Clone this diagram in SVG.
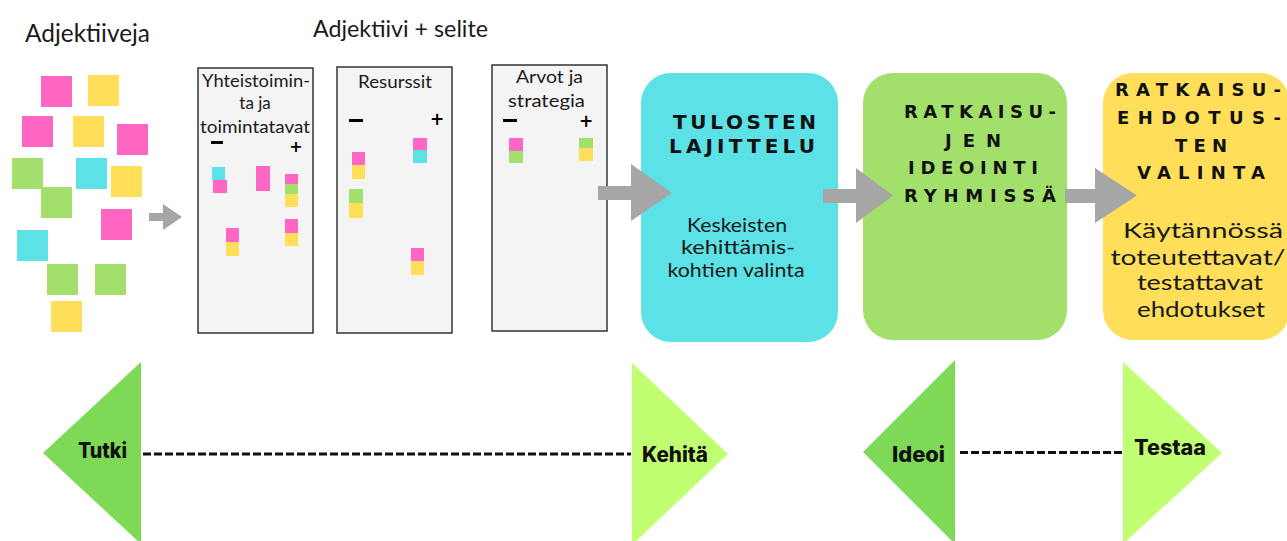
<svg xmlns="http://www.w3.org/2000/svg" width="1287" height="541" viewBox="0 0 1287 541">
<style>
.pk{fill:#ff66c4}.yl{fill:#ffde59}.gr{fill:#a2e06b}.cy{fill:#5ce1e6}
.board{fill:#f4f4f4;stroke:#333;stroke-width:1.5}
.t{font-family:Lato,"Noto Sans",sans-serif;fill:#1a1a1a}
.h{font-family:"DejaVu Sans",Inter,sans-serif;font-weight:700;fill:#111}
.pm{font-family:"DejaVu Sans",sans-serif;font-weight:700;fill:#000}
.lb{font-family:Inter,"DejaVu Sans",sans-serif;font-weight:800;fill:#111;font-size:21px}
.arr{fill:#a6a6a6}
.dash{stroke:#111;stroke-width:3.2;stroke-dasharray:8 3;fill:none}
</style>
<rect width="1287" height="541" fill="#fff"/>

<g id="titles">
<text class="t" x="25" y="42" font-size="25" textLength="125" lengthAdjust="spacingAndGlyphs">Adjektiiveja</text>
<text class="t" x="313" y="37" font-size="23" textLength="175" lengthAdjust="spacingAndGlyphs">Adjektiivi + selite</text>
</g>

<g id="stickies">
<rect class="pk" x="41" y="76" width="31" height="31"/>
<rect class="yl" x="88" y="75" width="31" height="31"/>
<rect class="pk" x="22" y="116" width="31" height="31"/>
<rect class="yl" x="73" y="116" width="31" height="31"/>
<rect class="pk" x="117" y="124" width="31" height="31"/>
<rect class="gr" x="12" y="158" width="31" height="31"/>
<rect class="cy" x="76" y="158" width="31" height="31"/>
<rect class="yl" x="111" y="166" width="31" height="31"/>
<rect class="gr" x="41" y="187" width="31" height="31"/>
<rect class="pk" x="101" y="209" width="31" height="31"/>
<rect class="cy" x="17" y="230" width="31" height="31"/>
<rect class="gr" x="47" y="264" width="31" height="31"/>
<rect class="gr" x="95" y="264" width="31" height="31"/>
<rect class="yl" x="51" y="301" width="31" height="31"/>
</g>

<g id="board1">
<rect class="board" x="198" y="68" width="115" height="265"/>
<text class="t" x="202" y="87" font-size="17" textLength="108" lengthAdjust="spacingAndGlyphs">Yhteistoimin-</text>
<text class="t" x="255" y="109" font-size="17" text-anchor="middle">ta ja</text>
<text class="t" x="200" y="133" font-size="17" textLength="110" lengthAdjust="spacingAndGlyphs">toimintatavat</text>
<rect x="211" y="141" width="12" height="3" fill="#000"/>
<text class="pm" x="296" y="152" font-size="16" text-anchor="middle">+</text>
<rect class="cy" x="212" y="167" width="13" height="13"/>
<rect class="pk" x="213" y="180" width="14" height="13"/>
<rect class="pk" x="256" y="166" width="14" height="25"/>
<rect class="pk" x="285" y="174" width="13" height="10"/>
<rect class="gr" x="285" y="184" width="13" height="10"/>
<rect class="yl" x="285" y="194" width="13" height="13"/>
<rect class="pk" x="285" y="219" width="13" height="14"/>
<rect class="yl" x="285" y="233" width="13" height="13"/>
<rect class="pk" x="226" y="228" width="13" height="14"/>
<rect class="yl" x="226" y="242" width="13" height="14"/>
</g>

<g id="board2">
<rect class="board" x="337" y="67" width="115" height="266"/>
<text class="t" x="358" y="88" font-size="17" textLength="74" lengthAdjust="spacingAndGlyphs">Resurssit</text>
<rect x="349" y="119" width="14" height="3" fill="#000"/>
<text class="pm" x="437" y="125" font-size="17" text-anchor="middle">+</text>
<rect class="pk" x="413" y="138" width="14" height="12"/>
<rect class="cy" x="413" y="150" width="14" height="13"/>
<rect class="pk" x="352" y="152" width="13" height="13"/>
<rect class="yl" x="352" y="165" width="13" height="14"/>
<rect class="gr" x="349" y="189" width="14" height="14"/>
<rect class="yl" x="349" y="203" width="14" height="15"/>
<rect class="pk" x="411" y="248" width="13" height="13"/>
<rect class="yl" x="411" y="261" width="13" height="14"/>
</g>

<g id="board3">
<rect class="board" x="492" y="65" width="115" height="266"/>
<text class="t" x="516" y="83" font-size="17" textLength="67" lengthAdjust="spacingAndGlyphs">Arvot ja</text>
<text class="t" x="508" y="107" font-size="17" textLength="77" lengthAdjust="spacingAndGlyphs">strategia</text>
<rect x="503" y="119" width="14" height="3" fill="#000"/>
<text class="pm" x="586" y="127" font-size="17" text-anchor="middle">+</text>
<rect class="pk" x="509" y="138" width="14" height="13"/>
<rect class="gr" x="509" y="151" width="14" height="12"/>
<rect class="gr" x="579" y="138" width="14" height="10"/>
<rect class="yl" x="579" y="148" width="14" height="13"/>
</g>

<g id="box-tulosten">
<rect x="641" y="73" width="197" height="269" rx="30" fill="#5ce1e6"/>
<text class="h" x="673" y="129" font-size="20" textLength="143" lengthAdjust="spacing">TULOSTEN</text>
<text class="h" x="669" y="153" font-size="20" textLength="146" lengthAdjust="spacing">LAJITTELU</text>
<text class="t" x="737" y="232" font-size="19" text-anchor="middle" textLength="100" lengthAdjust="spacingAndGlyphs">Keskeisten</text>
<text class="t" x="738" y="254" font-size="19" text-anchor="middle" textLength="114" lengthAdjust="spacingAndGlyphs">kehittämis-</text>
<text class="t" x="736" y="277" font-size="19" text-anchor="middle" textLength="137" lengthAdjust="spacingAndGlyphs">kohtien valinta</text>
</g>

<g id="box-ratkaisujen">
<rect x="863" y="73" width="204" height="267" rx="30" fill="#a2e06b"/>
<text class="h" x="904" y="118" font-size="18" textLength="152" lengthAdjust="spacing">RATKAISU-</text>
<text class="h" x="945" y="147" font-size="18" textLength="56" lengthAdjust="spacing">JEN</text>
<text class="h" x="908" y="174" font-size="18" textLength="130" lengthAdjust="spacing">IDEOINTI</text>
<text class="h" x="904" y="202" font-size="18" textLength="152" lengthAdjust="spacing">RYHMISSÄ</text>
</g>

<g id="box-valinta">
<rect x="1103" y="73" width="187" height="267" rx="30" fill="#ffde59"/>
<text class="h" x="1115" y="96" font-size="18" textLength="166" lengthAdjust="spacing">RATKAISU-</text>
<text class="h" x="1117" y="124" font-size="18" textLength="164" lengthAdjust="spacing">EHDOTUS-</text>
<text class="h" x="1175" y="152" font-size="18" textLength="52" lengthAdjust="spacing">TEN</text>
<text class="h" x="1137" y="179" font-size="18" textLength="128" lengthAdjust="spacing">VALINTA</text>
<text class="t" x="1203" y="238" font-size="21" text-anchor="middle" textLength="160" lengthAdjust="spacingAndGlyphs">Käytännössä</text>
<text class="t" x="1198" y="265" font-size="21" text-anchor="middle" textLength="175" lengthAdjust="spacingAndGlyphs">toteutettavat/</text>
<text class="t" x="1200" y="290" font-size="21" text-anchor="middle" textLength="126" lengthAdjust="spacingAndGlyphs">testattavat</text>
<text class="t" x="1201" y="317" font-size="21" text-anchor="middle" textLength="128" lengthAdjust="spacingAndGlyphs">ehdotukset</text>
</g>

<g id="tutki">
<polygon points="141,362 43,453 141,544" fill="#7ed957"/>
<text class="lb" x="78" y="458" textLength="49" lengthAdjust="spacingAndGlyphs">Tutki</text>
</g>
<g id="kehita">
<polygon points="632,363 728,454 632,545" fill="#c1ff72"/>
<text class="lb" x="642" y="462" textLength="66" lengthAdjust="spacingAndGlyphs">Kehitä</text>
</g>
<g id="ideoi">
<polygon points="955,360 863,452 955,544" fill="#7ed957"/>
<text class="lb" x="892" y="462" textLength="53" lengthAdjust="spacingAndGlyphs">Ideoi</text>
</g>
<g id="testaa">
<polygon points="1123,362 1222,453 1123,544" fill="#c1ff72"/>
<text class="lb" x="1134" y="455" textLength="72" lengthAdjust="spacingAndGlyphs">Testaa</text>
</g>

<g id="connectors">
<polygon class="arr" points="149,213 163,213 163,204 182,217 163,230 163,221 149,221"/>
<polygon class="arr" points="598,186 631,186 631,164 672,193 631,221 631,200 598,200"/>
<polygon class="arr" points="823,189 856,189 856,168 893,195.5 856,223 856,203 823,203"/>
<polygon class="arr" points="1065,189 1095,189 1095,168 1137,195.5 1095,223 1095,203 1065,203"/>
<line class="dash" x1="143" y1="454" x2="631" y2="454"/>
<line class="dash" x1="960" y1="452.5" x2="1122" y2="452.5"/>
</g>
</svg>
